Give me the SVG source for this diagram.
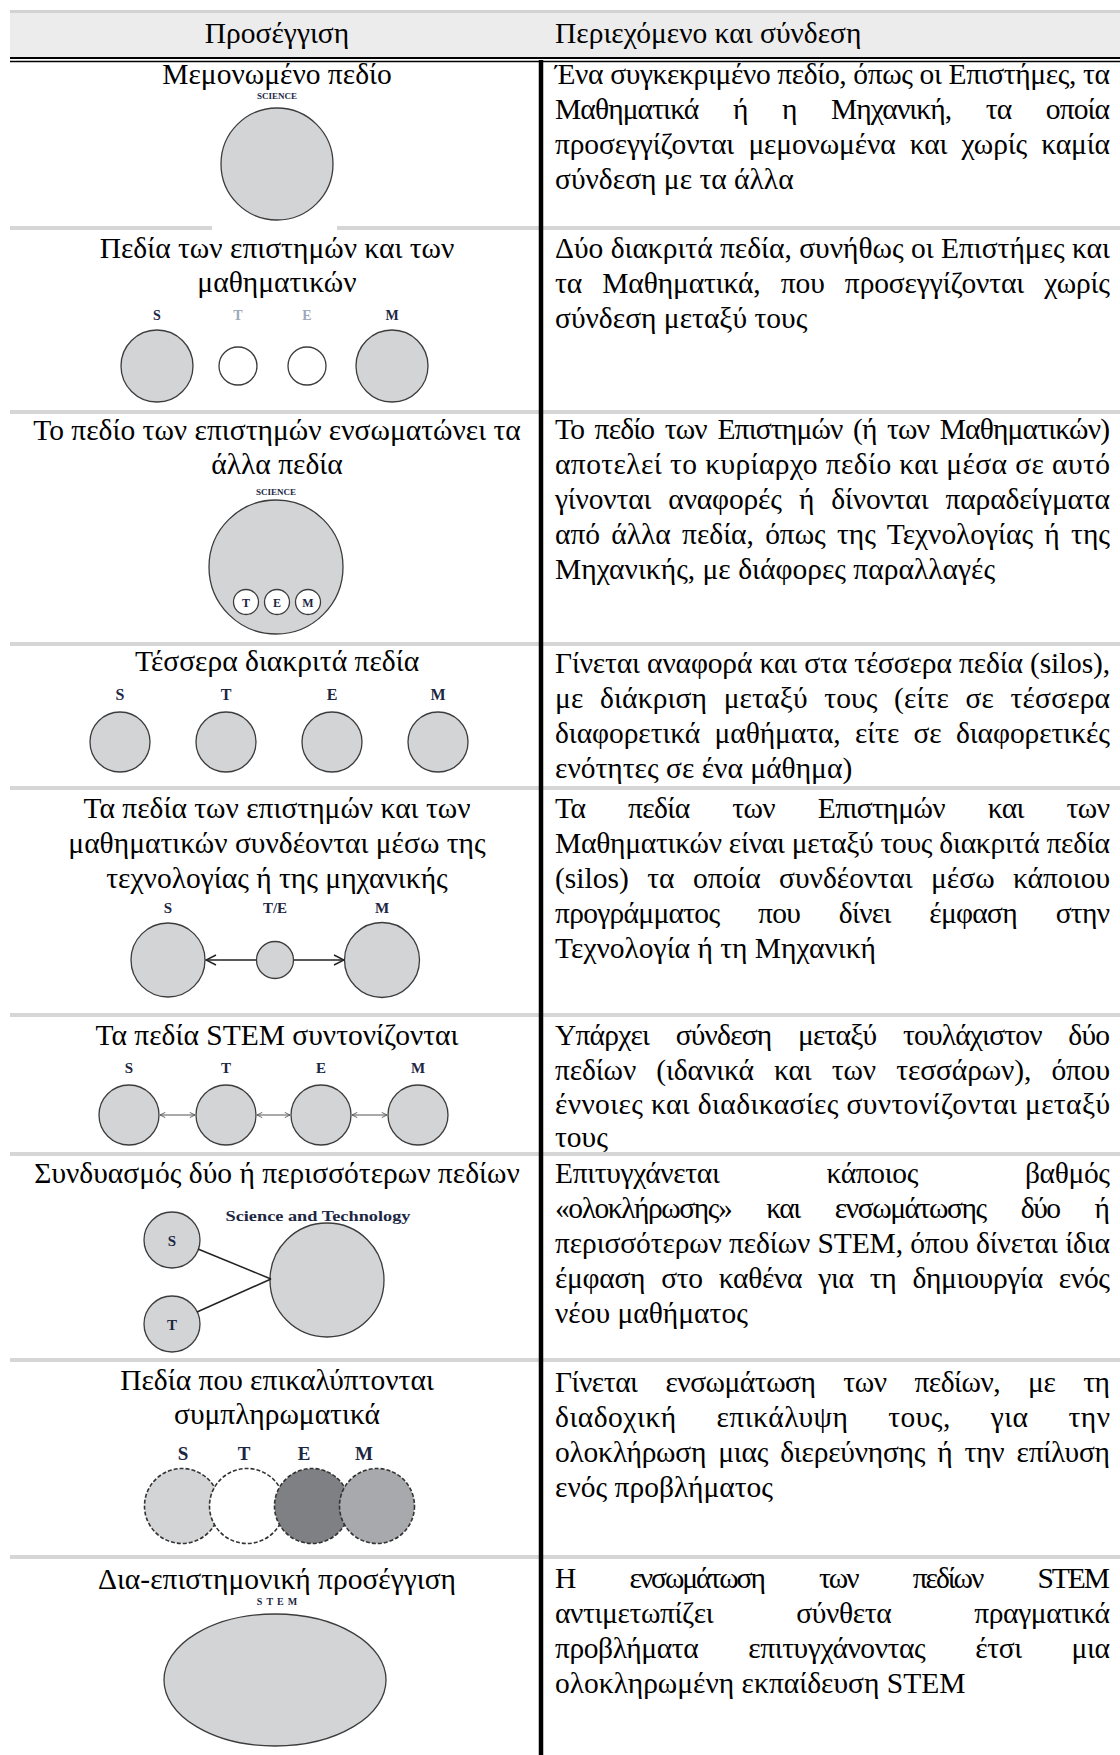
<svg xmlns="http://www.w3.org/2000/svg" width="1120" height="1755" viewBox="0 0 1120 1755">
<style>
  .t { font-family: "Liberation Serif", "Times New Roman", serif; font-size: 29.5px; fill: #000; }
  .c { text-anchor: middle; }
  .lbl { font-family: "Liberation Serif", "Times New Roman", serif; font-weight: bold; fill: #1d2744; text-anchor: middle; }
  .dim { fill: #9ea7b8; }
  .fld { fill: #d3d4d6; stroke: #3c3c3c; stroke-width: 1.3; }
  .blank { fill: #fff; stroke: #3c3c3c; stroke-width: 1.3; }
  .sep { stroke: #d6d6d6; stroke-width: 4; }
  .rule { stroke: #000; }
  .link { stroke: #222; stroke-width: 1.5; fill: none; }
  .thin { stroke: #555; stroke-width: 1; fill: none; }
  .ov { stroke: #333; stroke-width: 1.6; stroke-dasharray: 4 2; }
</style>
<defs>
  <marker id="vee" viewBox="0 0 12 12" refX="11" refY="6" markerWidth="12" markerHeight="12" markerUnits="userSpaceOnUse" orient="auto">
    <path d="M1,1 L11,6 L1,11" fill="none" stroke="#222" stroke-width="1.5"/>
  </marker>
  <marker id="veeS" viewBox="0 0 8 8" refX="7" refY="4" markerWidth="7" markerHeight="7" markerUnits="userSpaceOnUse" orient="auto-start-reverse">
    <path d="M1,1 L7,4 L1,7" fill="none" stroke="#555" stroke-width="1"/>
  </marker>
</defs>
<rect width="1120" height="1755" fill="#fff"/>

<!-- table frame -->
<g id="frame">
  <rect x="10" y="10" width="1110" height="47" fill="#ececec"/>
  <line x1="10" y1="11.5" x2="1120" y2="11.5" stroke="#d2d2d2" stroke-width="3"/>
  <line class="sep" x1="10" y1="228" x2="1120" y2="228"/>
  <line class="sep" x1="10" y1="412" x2="1120" y2="412"/>
  <line class="sep" x1="10" y1="644" x2="1120" y2="644"/>
  <line class="sep" x1="10" y1="788" x2="1120" y2="788"/>
  <line class="sep" x1="10" y1="1015" x2="1120" y2="1015"/>
  <line class="sep" x1="10" y1="1154" x2="1120" y2="1154"/>
  <line class="sep" x1="10" y1="1360" x2="1120" y2="1360"/>
  <line class="sep" x1="10" y1="1557" x2="1120" y2="1557"/>
  <rect x="212" y="224" width="125" height="7" fill="#fff"/>
  <line class="rule" x1="10" y1="58" x2="1120" y2="58" stroke-width="2.2"/>
  <line class="rule" x1="10" y1="61.5" x2="1120" y2="61.5" stroke-width="1.3"/>
  <line class="rule" x1="541" y1="60" x2="541" y2="1755" stroke-width="4.5"/>
</g>

<g id="header">
  <text class="t c" x="277" y="43">Προσέγγιση</text>
  <text class="t" x="555" y="43">Περιεχόμενο και σύνδεση</text>
</g>

<!-- row 1 -->
<g id="row1">
  <text class="t c" x="277" y="84">Μεμονωμένο πεδίο</text>
  <text class="lbl" x="277" y="99" font-size="9">SCIENCE</text>
  <circle class="fld" cx="277" cy="164" r="56"/>
  <text class="t" x="555" y="84" textLength="555" lengthAdjust="spacing">Ένα συγκεκριμένο πεδίο, όπως οι Επιστήμες, τα</text>
  <text class="t" x="555" y="119" textLength="555" lengthAdjust="spacing"><tspan>Μαθηματικά</tspan><tspan dx="28"> ή</tspan><tspan dx="28"> η</tspan><tspan dx="28"> Μηχανική,</tspan><tspan dx="28"> τα</tspan><tspan dx="28"> οποία</tspan></text>
  <text class="t" x="555" y="154" textLength="555" lengthAdjust="spacing"><tspan>προσεγγίζονται</tspan><tspan dx="7"> μεμονωμένα</tspan><tspan dx="7"> και</tspan><tspan dx="7"> χωρίς</tspan><tspan dx="7"> καμία</tspan></text>
  <text class="t" x="555" y="189">σύνδεση με τα άλλα</text>
</g>

<!-- row 2 -->
<g id="row2">
  <text class="t c" x="277" y="258">Πεδία των επιστημών και των</text>
  <text class="t c" x="277" y="292">μαθηματικών</text>
  <text class="lbl" x="157" y="320" font-size="14">S</text>
  <text class="lbl dim" x="238" y="320" font-size="14">T</text>
  <text class="lbl dim" x="307" y="320" font-size="14">E</text>
  <text class="lbl" x="392" y="320" font-size="14">M</text>
  <circle class="fld" cx="157" cy="366" r="36"/>
  <circle class="blank" cx="238" cy="366" r="19"/>
  <circle class="blank" cx="307" cy="366" r="19"/>
  <circle class="fld" cx="392" cy="366" r="36"/>
  <text class="t" x="555" y="258" textLength="555" lengthAdjust="spacing">Δύο διακριτά πεδία, συνήθως οι Επιστήμες και</text>
  <text class="t" x="555" y="293" textLength="555" lengthAdjust="spacing"><tspan>τα</tspan><tspan dx="13"> Μαθηματικά,</tspan><tspan dx="13"> που</tspan><tspan dx="13"> προσεγγίζονται</tspan><tspan dx="13"> χωρίς</tspan></text>
  <text class="t" x="555" y="328">σύνδεση μεταξύ τους</text>
</g>

<!-- row 3 -->
<g id="row3">
  <text class="t c" x="277" y="440">Το πεδίο των επιστημών ενσωματώνει τα</text>
  <text class="t c" x="277" y="474">άλλα πεδία</text>
  <text class="lbl" x="276" y="495" font-size="9">SCIENCE</text>
  <circle class="fld" cx="276" cy="567" r="67"/>
  <circle class="blank" cx="246" cy="602" r="12.5"/>
  <circle class="blank" cx="277" cy="602" r="12.5"/>
  <circle class="blank" cx="308" cy="602" r="12.5"/>
  <text class="lbl" x="246" y="606.5" font-size="12">T</text>
  <text class="lbl" x="277" y="606.5" font-size="12">E</text>
  <text class="lbl" x="308" y="606.5" font-size="12">M</text>
  <text class="t" x="555" y="439" textLength="555" lengthAdjust="spacing"><tspan>Το</tspan><tspan dx="4"> πεδίο</tspan><tspan dx="4"> των</tspan><tspan dx="4"> Επιστημών</tspan><tspan dx="4"> (ή</tspan><tspan dx="4"> των</tspan><tspan dx="4"> Μαθηματικών)</tspan></text>
  <text class="t" x="555" y="474" textLength="555" lengthAdjust="spacing">αποτελεί το κυρίαρχο πεδίο και μέσα σε αυτό</text>
  <text class="t" x="555" y="509" textLength="555" lengthAdjust="spacing"><tspan>γίνονται</tspan><tspan dx="10"> αναφορές</tspan><tspan dx="10"> ή</tspan><tspan dx="10"> δίνονται</tspan><tspan dx="10"> παραδείγματα</tspan></text>
  <text class="t" x="555" y="544" textLength="555" lengthAdjust="spacing"><tspan>από</tspan><tspan dx="4"> άλλα</tspan><tspan dx="4"> πεδία,</tspan><tspan dx="4"> όπως</tspan><tspan dx="4"> της</tspan><tspan dx="4"> Τεχνολογίας</tspan><tspan dx="4"> ή</tspan><tspan dx="4"> της</tspan></text>
  <text class="t" x="555" y="579">Μηχανικής, με διάφορες παραλλαγές</text>
</g>

<!-- row 4 -->
<g id="row4">
  <text class="t c" x="277" y="671">Τέσσερα διακριτά πεδία</text>
  <text class="lbl" x="120" y="700" font-size="16">S</text>
  <text class="lbl" x="226" y="700" font-size="16">T</text>
  <text class="lbl" x="332" y="700" font-size="16">E</text>
  <text class="lbl" x="438" y="700" font-size="16">M</text>
  <circle class="fld" cx="120" cy="742" r="30"/>
  <circle class="fld" cx="226" cy="742" r="30"/>
  <circle class="fld" cx="332" cy="742" r="30"/>
  <circle class="fld" cx="438" cy="742" r="30"/>
  <text class="t" x="555" y="673" textLength="555" lengthAdjust="spacing">Γίνεται αναφορά και στα τέσσερα πεδία (silos),</text>
  <text class="t" x="555" y="708" textLength="555" lengthAdjust="spacing"><tspan>με</tspan><tspan dx="9"> διάκριση</tspan><tspan dx="9"> μεταξύ</tspan><tspan dx="9"> τους</tspan><tspan dx="9"> (είτε</tspan><tspan dx="9"> σε</tspan><tspan dx="9"> τέσσερα</tspan></text>
  <text class="t" x="555" y="743" textLength="555" lengthAdjust="spacing"><tspan>διαφορετικά</tspan><tspan dx="7"> μαθήματα,</tspan><tspan dx="7"> είτε</tspan><tspan dx="7"> σε</tspan><tspan dx="7"> διαφορετικές</tspan></text>
  <text class="t" x="555" y="778">ενότητες σε ένα μάθημα)</text>
</g>

<!-- row 5 -->
<g id="row5">
  <text class="t c" x="277" y="818">Τα πεδία των επιστημών και των</text>
  <text class="t c" x="277" y="853">μαθηματικών συνδέονται μέσω της</text>
  <text class="t c" x="277" y="888">τεχνολογίας ή της μηχανικής</text>
  <text class="lbl" x="168" y="913" font-size="15">S</text>
  <text class="lbl" x="275" y="913" font-size="15">T/E</text>
  <text class="lbl" x="382" y="913" font-size="15">M</text>
  <circle class="fld" cx="168" cy="960" r="37"/>
  <circle class="fld" cx="275" cy="960" r="18.5"/>
  <circle class="fld" cx="382" cy="960" r="37.5"/>
  <text class="t" x="555" y="818" textLength="555" lengthAdjust="spacing"><tspan>Τα</tspan><tspan dx="36"> πεδία</tspan><tspan dx="36"> των</tspan><tspan dx="36"> Επιστημών</tspan><tspan dx="36"> και</tspan><tspan dx="36"> των</tspan></text>
  <text class="t" x="555" y="853" textLength="555" lengthAdjust="spacing">Μαθηματικών είναι μεταξύ τους διακριτά πεδία</text>
  <text class="t" x="555" y="888" textLength="555" lengthAdjust="spacing"><tspan>(silos)</tspan><tspan dx="11"> τα</tspan><tspan dx="11"> οποία</tspan><tspan dx="11"> συνδέονται</tspan><tspan dx="11"> μέσω</tspan><tspan dx="11"> κάποιου</tspan></text>
  <text class="t" x="555" y="923" textLength="555" lengthAdjust="spacing"><tspan>προγράμματος</tspan><tspan dx="32"> που</tspan><tspan dx="32"> δίνει</tspan><tspan dx="32"> έμφαση</tspan><tspan dx="32"> στην</tspan></text>
  <text class="t" x="555" y="958">Τεχνολογία ή τη Μηχανική</text>
</g>

<!-- row 6 -->
<g id="row6">
  <text class="t c" x="277" y="1045">Τα πεδία STEM συντονίζονται</text>
  <text class="lbl" x="129" y="1073" font-size="15">S</text>
  <text class="lbl" x="226" y="1073" font-size="15">T</text>
  <text class="lbl" x="321" y="1073" font-size="15">E</text>
  <text class="lbl" x="418" y="1073" font-size="15">M</text>
  <circle class="fld" cx="129" cy="1115" r="30"/>
  <circle class="fld" cx="226" cy="1115" r="30"/>
  <circle class="fld" cx="321" cy="1115" r="30"/>
  <circle class="fld" cx="418" cy="1115" r="30"/>
  <text class="t" x="555" y="1045" textLength="555" lengthAdjust="spacing"><tspan>Υπάρχει</tspan><tspan dx="20"> σύνδεση</tspan><tspan dx="20"> μεταξύ</tspan><tspan dx="20"> τουλάχιστον</tspan><tspan dx="20"> δύο</tspan></text>
  <text class="t" x="555" y="1080" textLength="555" lengthAdjust="spacing"><tspan>πεδίων</tspan><tspan dx="13"> (ιδανικά</tspan><tspan dx="13"> και</tspan><tspan dx="13"> των</tspan><tspan dx="13"> τεσσάρων),</tspan><tspan dx="13"> όπου</tspan></text>
  <text class="t" x="555" y="1114" textLength="555" lengthAdjust="spacing">έννοιες και διαδικασίες συντονίζονται μεταξύ</text>
  <text class="t" x="555" y="1147">τους</text>
</g>

<!-- row 7 -->
<g id="row7">
  <text class="t c" x="277" y="1183">Συνδυασμός δύο ή περισσότερων πεδίων</text>
  <text class="lbl" x="318" y="1221" font-size="15" textLength="185" lengthAdjust="spacingAndGlyphs">Science and Technology</text>
  <circle class="fld" cx="172" cy="1240" r="28"/>
  <circle class="fld" cx="172" cy="1324" r="28"/>
  <circle class="fld" cx="327" cy="1280" r="57"/>
  <text class="lbl" x="172" y="1246" font-size="15">S</text>
  <text class="lbl" x="172" y="1330" font-size="15">T</text>
  <text class="t" x="555" y="1183" textLength="555" lengthAdjust="spacing"><tspan>Επιτυγχάνεται</tspan><tspan dx="100"> κάποιος</tspan><tspan dx="100"> βαθμός</tspan></text>
  <text class="t" x="555" y="1218" textLength="555" lengthAdjust="spacing"><tspan>«ολοκλήρωσης»</tspan><tspan dx="29"> και</tspan><tspan dx="29"> ενσωμάτωσης</tspan><tspan dx="29"> δύο</tspan><tspan dx="29"> ή</tspan></text>
  <text class="t" x="555" y="1253" textLength="555" lengthAdjust="spacing">περισσότερων πεδίων STEM, όπου δίνεται ίδια</text>
  <text class="t" x="555" y="1288" textLength="555" lengthAdjust="spacing"><tspan>έμφαση</tspan><tspan dx="9"> στο</tspan><tspan dx="9"> καθένα</tspan><tspan dx="9"> για</tspan><tspan dx="9"> τη</tspan><tspan dx="9"> δημιουργία</tspan><tspan dx="9"> ενός</tspan></text>
  <text class="t" x="555" y="1323">νέου μαθήματος</text>
</g>

<!-- row 8 -->
<g id="row8">
  <text class="t c" x="277" y="1390">Πεδία που επικαλύπτονται</text>
  <text class="t c" x="277" y="1424">συμπληρωματικά</text>
  <text class="lbl" x="183" y="1460" font-size="19">S</text>
  <text class="lbl" x="244" y="1460" font-size="19">T</text>
  <text class="lbl" x="304" y="1460" font-size="19">E</text>
  <text class="lbl" x="364" y="1460" font-size="19">M</text>
  <circle class="ov" cx="182" cy="1506" r="37.5" fill="#d3d4d6"/>
  <circle class="ov" cx="247" cy="1506" r="37.5" fill="#ffffff"/>
  <circle class="ov" cx="312" cy="1506" r="37.5" fill="#7f8083"/>
  <circle class="ov" cx="377" cy="1506" r="37.5" fill="#a8a9ac"/>
  <text class="t" x="555" y="1392" textLength="555" lengthAdjust="spacing"><tspan>Γίνεται</tspan><tspan dx="21"> ενσωμάτωση</tspan><tspan dx="21"> των</tspan><tspan dx="21"> πεδίων,</tspan><tspan dx="21"> με</tspan><tspan dx="21"> τη</tspan></text>
  <text class="t" x="555" y="1427" textLength="555" lengthAdjust="spacing"><tspan>διαδοχική</tspan><tspan dx="32"> επικάλυψη</tspan><tspan dx="32"> τους,</tspan><tspan dx="32"> για</tspan><tspan dx="32"> την</tspan></text>
  <text class="t" x="555" y="1462" textLength="555" lengthAdjust="spacing"><tspan>ολοκλήρωση</tspan><tspan dx="5"> μιας</tspan><tspan dx="5"> διερεύνησης</tspan><tspan dx="5"> ή</tspan><tspan dx="5"> την</tspan><tspan dx="5"> επίλυση</tspan></text>
  <text class="t" x="555" y="1497">ενός προβλήματος</text>
</g>

<!-- row 9 -->
<g id="row9">
  <text class="t c" x="277" y="1589">Δια-επιστημονική προσέγγιση</text>
  <text class="lbl" x="279" y="1605" font-size="10" letter-spacing="4">STEM</text>
  <ellipse class="fld" cx="275" cy="1680" rx="111" ry="66"/>
  <text class="t" x="555" y="1588" textLength="555" lengthAdjust="spacing"><tspan>Η</tspan><tspan dx="50"> ενσωμάτωση</tspan><tspan dx="50"> των</tspan><tspan dx="50"> πεδίων</tspan><tspan dx="50"> STEM</tspan></text>
  <text class="t" x="555" y="1623" textLength="555" lengthAdjust="spacing"><tspan>αντιμετωπίζει</tspan><tspan dx="76"> σύνθετα</tspan><tspan dx="76"> πραγματικά</tspan></text>
  <text class="t" x="555" y="1658" textLength="555" lengthAdjust="spacing"><tspan>προβλήματα</tspan><tspan dx="43"> επιτυγχάνοντας</tspan><tspan dx="43"> έτσι</tspan><tspan dx="43"> μια</tspan></text>
  <text class="t" x="555" y="1693">ολοκληρωμένη εκπαίδευση STEM</text>
</g>

<!-- connectors -->
<g id="connectors">
  <line class="link" x1="256" y1="960" x2="206" y2="960" marker-end="url(#vee)"/>
  <line class="link" x1="294" y1="960" x2="344" y2="960" marker-end="url(#vee)"/>
  <line class="thin" x1="160" y1="1115" x2="195" y2="1115" marker-start="url(#veeS)" marker-end="url(#veeS)"/>
  <line class="thin" x1="257" y1="1115" x2="290" y2="1115" marker-start="url(#veeS)" marker-end="url(#veeS)"/>
  <line class="thin" x1="352" y1="1115" x2="387" y2="1115" marker-start="url(#veeS)" marker-end="url(#veeS)"/>
  <line class="link" x1="198" y1="1249" x2="271" y2="1279" stroke-width="1.3"/>
  <line class="link" x1="197" y1="1312" x2="271" y2="1279" stroke-width="1.3"/>
</g>
</svg>
